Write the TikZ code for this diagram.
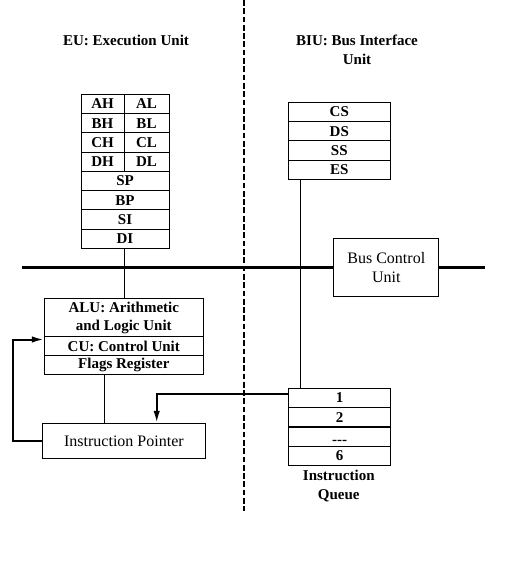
\documentclass[tikz,border=0pt]{standalone}
\usepackage{fontspec}
\setmainfont{Liberation Serif}
\usetikzlibrary{arrows.meta}
\tikzset{
  cell/.style={draw, line width=1pt, inner sep=0pt, font=\fontsize{15}{18}\selectfont\bfseries, align=center},
  plainbox/.style={draw, line width=1pt, inner sep=0pt, font=\fontsize{16}{19}\selectfont, align=center},
  title/.style={inner sep=0pt, font=\fontsize{15}{18.5}\selectfont\bfseries, align=center},
  thin/.style={line width=1pt},
  feed/.style={line width=2pt, -{Latex[length=12pt,width=6.5pt]}},
  bus/.style={line width=3pt},
  divider/.style={line width=2pt, dash pattern=on 5.7pt off 2.6pt}
}
\begin{document}
\begin{tikzpicture}[x=1pt,y=-1pt]
\useasboundingbox (0,0) rectangle (516,561);
% titles
\node[title] (eut) at (126,40.7) {EU: Execution Unit};
\node[title] (biut) at (357,50) {BIU: Bus Interface\\Unit};
% EU registers
\node[cell, minimum width=43pt, minimum height=19.25pt] (AH) at (102.5,103.9) {AH};
\node[cell, minimum width=45pt, minimum height=19.25pt] (AL) at (146.5,103.9) {AL};
\node[cell, minimum width=43pt, minimum height=19.25pt] (BH) at (102.5,123.2) {BH};
\node[cell, minimum width=45pt, minimum height=19.25pt] (BL) at (146.5,123.2) {BL};
\node[cell, minimum width=43pt, minimum height=19.25pt] (CH) at (102.5,142.4) {CH};
\node[cell, minimum width=45pt, minimum height=19.25pt] (CL) at (146.5,142.4) {CL};
\node[cell, minimum width=43pt, minimum height=19.25pt] (DH) at (102.5,161.7) {DH};
\node[cell, minimum width=45pt, minimum height=19.25pt] (DL) at (146.5,161.7) {DL};
\node[cell, minimum width=88pt, minimum height=19.25pt] (SP) at (125,180.9) {SP};
\node[cell, minimum width=88pt, minimum height=19.25pt] (BP) at (125,200.2) {BP};
\node[cell, minimum width=88pt, minimum height=19.25pt] (SI) at (125,219.4) {SI};
\node[cell, minimum width=88pt, minimum height=19.25pt] (DI) at (125,238.7) {DI};
% BIU segment registers
\node[cell, minimum width=102pt, minimum height=19.25pt] (CS) at (339.3,111.9) {CS};
\node[cell, minimum width=102pt, minimum height=19.25pt] (DS) at (339.3,131.2) {DS};
\node[cell, minimum width=102pt, minimum height=19.25pt] (SS) at (339.3,150.4) {SS};
\node[cell, minimum width=102pt, minimum height=19.25pt] (ES) at (339.3,169.7) {ES};
% ALU / CU / Flags
\node[cell, minimum width=159pt, minimum height=38.4pt] (ALU) at (123.8,317.5) {ALU: Arithmetic\\and Logic Unit};
\node[cell, minimum width=159pt, minimum height=19pt] (CU) at (123.8,346.2) {CU: Control Unit};
\node[cell, minimum width=159pt, minimum height=18.6pt] (FL) at (123.8,365) {Flags Register};
% Instruction pointer
\node[plainbox, minimum width=163.7pt, minimum height=35pt] (IP) at (123.9,440.8) {Instruction Pointer};
% Bus control unit
\node[plainbox, minimum width=104.7pt, minimum height=57.7pt] (BCU) at (386.3,267.2) {Bus Control\\Unit};
% Instruction queue
\node[cell, minimum width=102.4pt, minimum height=19.35pt] (Q1) at (339.5,398) {1};
\node[cell, minimum width=102.4pt, minimum height=19.35pt] (Q2) at (339.5,417.3) {2};
\node[cell, minimum width=102.4pt, minimum height=19.35pt] (Q3) at (339.5,436.7) {\vphantom{1}\raisebox{-2.5pt}[0pt][0pt]{-{}-{}-}};
\node[cell, minimum width=102.4pt, minimum height=19.35pt] (Q6) at (339.5,456) {6};
\node[title] (iqt) at (338.8,485.8) {Instruction\\Queue};
% divider
\coordinate (dtop) at (244,0);
\coordinate (dbot) at (244,511);
\draw[divider] (dtop) -- (dbot);
% bus
\coordinate (busL) at (22,267.2);
\coordinate (busR) at (484.5,267.2);
\draw[bus] (busL) -- (BCU.west);
\draw[bus] (BCU.east) -- (busR);
% thin connectors
\draw[thin] (AH.east |- DI.south) -- (AH.east |- ALU.north);
\coordinate (flx) at (104.3,0);
\draw[thin] (flx |- FL.south) -- (flx |- IP.north);
\coordinate (esx) at (300.7,0);
\draw[thin] (esx |- ES.south) -- (esx |- Q1.north);
% feedback arrows
\coordinate (qa) at (156.7,394.3);
\draw[feed] (Q1.west |- qa) -- (qa) -- (qa |- IP.north);
\coordinate (fb) at (13.3,339.5);
\draw[feed] (IP.west) -- (fb |- IP.west) -- (fb) -- (fb -| ALU.west);
\end{tikzpicture}
\end{document}
